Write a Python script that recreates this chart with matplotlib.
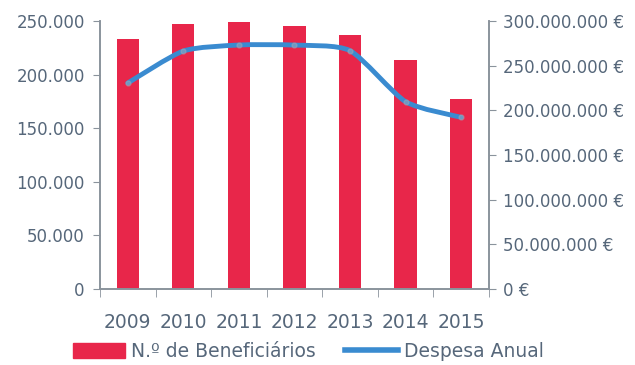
import numpy as np
import matplotlib.pyplot as plt
from matplotlib.path import Path
from matplotlib.patches import PathPatch
from matplotlib.lines import Line2D
from matplotlib.ticker import FuncFormatter, FixedLocator

anos = ["2009", "2010", "2011", "2012", "2013", "2014", "2015"]
beneficiarios = [233200, 246900, 249500, 245300, 237200, 213300, 177500]
despesa = [230.6e6, 266.4e6, 273.1e6, 273.0e6, 266.8e6, 209.7e6, 192.2e6]

VERMELHO = "#e8264a"
AZUL = "#3a8bd0"
TEXTO = "#56677a"
EIXO = "#8a939c"


def pontos(v):
    s = f"{int(round(v)):,}".replace(",", ".")
    return s


def curva_suave(xs, ys, k=9.0):
    # Bezier cubica entre os pontos (linha suavizada)
    xs = np.asarray(xs, float)
    ys = np.asarray(ys, float)
    verts = [(xs[0], ys[0])]
    codes = [Path.MOVETO]
    n = len(xs)
    for i in range(n - 1):
        p0 = np.array([xs[max(i - 1, 0)], ys[max(i - 1, 0)]])
        p1 = np.array([xs[i], ys[i]])
        p2 = np.array([xs[i + 1], ys[i + 1]])
        p3 = np.array([xs[min(i + 2, n - 1)], ys[min(i + 2, n - 1)]])
        c1 = p1 + (p2 - p0) / k
        c2 = p2 - (p3 - p1) / k
        verts += [tuple(c1), tuple(c2), tuple(p2)]
        codes += [Path.CURVE4] * 3
    return Path(verts, codes)


fig = plt.figure(figsize=(6.35, 3.65), dpi=100)
ax = fig.add_axes([0.1575, 0.208, 0.6125, 0.7345])
ax2 = ax.twinx()

x = np.arange(len(anos))
ax.bar(x, beneficiarios, width=0.4, color=VERMELHO, zorder=2)
ax.set_xlim(-0.5, len(anos) - 0.5)
ax.set_ylim(0, 250000)
ax.set_yticks(np.arange(0, 250001, 50000))
ax.yaxis.set_major_formatter(FuncFormatter(lambda v, p: pontos(v)))

ax2.add_patch(PathPatch(curva_suave(x, despesa), facecolor="none",
                        edgecolor=AZUL, lw=3.5, capstyle="round", zorder=3))
ax2.plot(x, despesa, "o", ms=3.5, color="#a0a8b8", alpha=0.5, zorder=4)
ax2.set_ylim(0, 300e6)
ax2.set_yticks(np.arange(0, 300e6 + 1, 50e6))
ax2.yaxis.set_major_formatter(FuncFormatter(lambda v, p: pontos(v) + " €"))

ax.set_xticks(x)
ax.set_xticklabels(anos)
ax.xaxis.set_minor_locator(FixedLocator(np.arange(-0.5, len(anos), 1.0)))
ax.tick_params(axis="x", which="major", length=0, pad=17,
               labelsize=13.5, labelcolor=TEXTO)
ax.tick_params(axis="x", which="minor", length=6, color=EIXO)
ax.tick_params(axis="y", length=5, color=EIXO, labelsize=12,
               labelcolor=TEXTO, pad=6)
ax2.tick_params(axis="y", length=5, color=EIXO, labelsize=12,
                labelcolor=TEXTO, pad=5)

for a in (ax, ax2):
    a.spines["top"].set_visible(False)
    for s in ("left", "right", "bottom"):
        a.spines[s].set_color(EIXO)
        a.spines[s].set_linewidth(1.2)

handles = [plt.Rectangle((0, 0), 1, 1, color=VERMELHO),
           Line2D([], [], color=AZUL, lw=4)]
fig.legend(handles, ["N.º de Beneficiários", "Despesa Anual"],
           loc="lower center", bbox_to_anchor=(0.485, -0.035), ncol=2,
           frameon=False, fontsize=13.5, labelcolor=TEXTO,
           handlelength=2.8, handleheight=0.8, handletextpad=0.3,
           columnspacing=1.6)

fig.savefig("out.png", dpi=100)
